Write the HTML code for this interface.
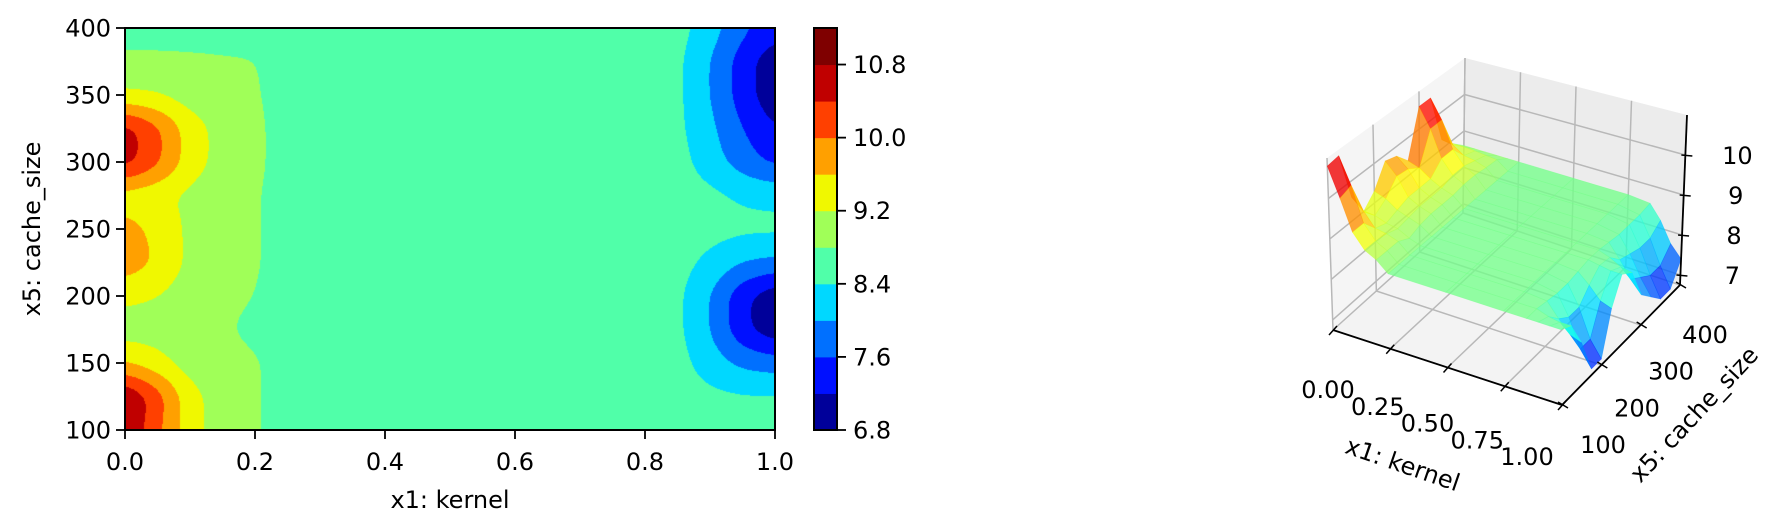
<!DOCTYPE html>
<html><head><meta charset="utf-8">
<style>
html,body{margin:0;padding:0;background:#fff;}
#wrap{position:relative;width:1773px;height:532px;overflow:hidden;font-family:"DejaVu Sans","Liberation Sans",sans-serif;}
#contour{position:absolute;left:125px;top:28px;}
svg{position:absolute;left:0;top:0;}
text{font-family:"DejaVu Sans","Liberation Sans",sans-serif;font-size:24px;fill:#000;}
</style></head>
<body>
<div id="wrap">
<canvas id="contour" width="650" height="402"></canvas>
<svg id="svg" width="1773" height="532"></svg>
</div>
<script>
// ---- data ----
const xGrid = [0,0.05,0.1,0.15,0.2,0.25,0.5,0.75,0.85,0.9,0.95,1.0];
const yGrid = [100,125,150,175,200,225,250,275,300,325,350,375,400];
const zGrid = [
 [10.8,10.1,9.35,9.0,8.85,8.6,8.6,8.6,8.6,8.6,8.6,8.6],
 [10.85,10.2,9.35,9.0,8.85,8.6,8.6,8.6,8.6,8.5,8.45,8.45],
 [9.6,9.35,9.0,8.95,8.85,8.6,8.6,8.6,8.55,8.2,7.9,7.8],
 [9.0,9.0,8.9,8.85,8.7,8.6,8.6,8.6,8.5,8.0,7.3,6.9],
 [9.3,9.2,9.0,8.9,8.8,8.6,8.6,8.6,8.5,8.0,7.3,6.9],
 [9.85,9.55,9.1,8.95,8.85,8.6,8.6,8.6,8.55,8.3,8.0,7.9],
 [9.75,9.5,9.1,8.95,8.85,8.6,8.6,8.6,8.6,8.55,8.5,8.5],
 [9.4,9.3,9.1,8.95,8.85,8.6,8.6,8.6,8.6,8.5,8.35,8.3],
 [10.6,10.1,9.4,9.05,8.9,8.6,8.6,8.6,8.55,8.2,7.8,7.5],
 [10.6,10.1,9.4,9.05,8.9,8.6,8.6,8.6,8.5,8.1,7.6,7.2],
 [9.25,9.2,9.0,8.95,8.85,8.6,8.6,8.6,8.5,8.0,7.4,6.9],
 [8.9,8.9,8.88,8.85,8.82,8.6,8.6,8.6,8.5,8.0,7.4,6.9],
 [8.6,8.6,8.6,8.6,8.6,8.6,8.6,8.6,8.55,8.2,7.7,7.4]
];
const levels = [6.8,7.2,7.6,8.0,8.4,8.8,9.2,9.6,10.0,10.4,10.8,11.2];
const levelColors = ['#00009a','#0010ff','#0070ff','#00d8ff','#50ffa9','#a0ff58','#f0f800','#ffa000','#ff4000','#c00000','#7f0000'];
const xTicks = [0,0.2,0.4,0.6,0.8,1.0];
const xTickLabels = ['0.0','0.2','0.4','0.6','0.8','1.0'];
const yTicks = [100,150,200,250,300,350,400];
const cbTicks = [6.8,7.6,8.4,9.2,10.0,10.8];
const cbTickLabels = ['6.8','7.6','8.4','9.2','10.0','10.8'];
const x3Ticks = [0,0.25,0.5,0.75,1.0];
const x3TickLabels = ['0.00','0.25','0.50','0.75','1.00'];
const y3Ticks = [100,200,300,400];
const z3Ticks = [7,8,9,10];

// ---- helpers ----
const NS='http://www.w3.org/2000/svg';
const svg=document.getElementById('svg');
function el(tag,attrs,parent){const e=document.createElementNS(NS,tag);for(const k in attrs)e.setAttribute(k,attrs[k]);(parent||svg).appendChild(e);return e;}
function seg(arr,v){let i=0;while(i<arr.length-2&&v>arr[i+1])i++;return i;}
function interp(x,y){
  const i=seg(xGrid,x), j=seg(yGrid,y);
  const tx=Math.min(1,Math.max(0,(x-xGrid[i])/(xGrid[i+1]-xGrid[i])));
  const ty=Math.min(1,Math.max(0,(y-yGrid[j])/(yGrid[j+1]-yGrid[j])));
  const a=zGrid[j][i],b=zGrid[j][i+1],c=zGrid[j+1][i],d=zGrid[j+1][i+1];
  return a*(1-tx)*(1-ty)+b*tx*(1-ty)+c*(1-tx)*ty+d*tx*ty;
}
const AX={l:125,r:775,t:28,b:430};
const sx=v=>AX.l+(v-0)/(1-0)*(AX.r-AX.l);
const sy=v=>AX.b-(v-100)/(400-100)*(AX.b-AX.t);
const cbY=v=>AX.b-(v-levels[0])/(levels[levels.length-1]-levels[0])*(AX.b-AX.t);

// ---- contour ----
const CW=650,CH=402;
const cv=document.getElementById('contour');const ctx=cv.getContext('2d');
let field=new Float32Array(CW*CH);
for(let py=0;py<CH;py++)for(let px=0;px<CW;px++){
  field[py*CW+px]=interp((px+0.5)/CW,400-(py+0.5)/CH*300);}
function blur(f,r){
  const o=new Float32Array(CW*CH),o2=new Float32Array(CW*CH);
  for(let y=0;y<CH;y++)for(let x=0;x<CW;x++){let s=0;for(let k=-r;k<=r;k++){const xx=Math.min(CW-1,Math.max(0,x+k));s+=f[y*CW+xx];}o[y*CW+x]=s/(2*r+1);}
  for(let y=0;y<CH;y++)for(let x=0;x<CW;x++){let s=0;for(let k=-r;k<=r;k++){const yy=Math.min(CH-1,Math.max(0,y+k));s+=o[yy*CW+x];}o2[y*CW+x]=s/(2*r+1);}
  return o2;}
field=blur(blur(field,9),9);
const img=ctx.createImageData(CW,CH);
const rgb=levelColors.map(c=>[parseInt(c.substr(1,2),16),parseInt(c.substr(3,2),16),parseInt(c.substr(5,2),16)]);
for(let p=0;p<CW*CH;p++){const v=field[p];
  let k=0;while(k<levels.length-2&&v>=levels[k+1])k++;
  img.data[p*4]=rgb[k][0];img.data[p*4+1]=rgb[k][1];img.data[p*4+2]=rgb[k][2];img.data[p*4+3]=255;}
ctx.putImageData(img,0,0);

const fr=el('rect',{x:AX.l,y:AX.t,width:AX.r-AX.l,height:AX.b-AX.t,fill:'none',stroke:'#000','stroke-width':2});


xTicks.forEach((t,i)=>{
  const ln=el('line',{x1:sx(t),x2:sx(t),y1:AX.b,y2:AX.b+9,stroke:'#000','stroke-width':1.8});
  
  
  const tx=el('text',{x:sx(t),y:AX.b+40,'text-anchor':'middle'});tx.textContent=xTickLabels[i];
  
  
});
yTicks.forEach(t=>{
  const ln=el('line',{x1:AX.l-9,x2:AX.l,y1:sy(t),y2:sy(t),stroke:'#000','stroke-width':1.8});
  
  
  const tx=el('text',{x:AX.l-14,y:sy(t)+8.5,'text-anchor':'end'});tx.textContent=String(t);
  
  
});
const xl=el('text',{x:450,y:508,'text-anchor':'middle'});xl.textContent='x1: kernel';


const yl=el('text',{x:0,y:0,'text-anchor':'middle',transform:'translate(40,229) rotate(-90)'});yl.textContent='x5: cache_size';



for(let k=0;k<levelColors.length;k++){
  const r=el('rect',{x:814,y:cbY(levels[k+1]),width:23,height:cbY(levels[k])-cbY(levels[k+1])+0.5,fill:levelColors[k]});
  
  
}
const cbf=el('rect',{x:814,y:AX.t,width:23,height:AX.b-AX.t,fill:'none',stroke:'#000','stroke-width':2});


cbTicks.forEach((t,i)=>{
  const ln=el('line',{x1:837,x2:846,y1:cbY(t),y2:cbY(t),stroke:'#000','stroke-width':1.8});
  
  
  const tx=el('text',{x:853,y:cbY(t)+8.5});tx.textContent=cbTickLabels[i];
  
  
});

// ---- 3D ----
const ZMIN=6.75,ZMAX=11;
const F00=[1333,330],F10=[1562,405],F01=[1463,213],F11=[1680,285];
const T00=[1327,158],T10=[1560,232],T01=[1465,58],T11=[1687,115];
function bl(a,b,c,d,u,v){return [a[0]*(1-u)*(1-v)+b[0]*u*(1-v)+c[0]*(1-u)*v+d[0]*u*v, a[1]*(1-u)*(1-v)+b[1]*u*(1-v)+c[1]*(1-u)*v+d[1]*u*v];}
function P(x,y,z){const u=x,v=(y-100)/300,w=(z-ZMIN)/(ZMAX-ZMIN);
  const f=bl(F00,F10,F01,F11,u,v),t=bl(T00,T10,T01,T11,u,v);return [f[0]+(t[0]-f[0])*w,f[1]+(t[1]-f[1])*w];}
const pts=a=>a.map(p=>p[0].toFixed(1)+','+p[1].toFixed(1)).join(' ');
const g3=el('g',{});


const pl=el('polygon',{points:pts([F00,F01,T01,T00]),fill:'#f5f5f5'},g3);


const pb=el('polygon',{points:pts([F01,F11,T11,T01]),fill:'#ececec'},g3);


const pf=el('polygon',{points:pts([F00,F10,F11,F01]),fill:'#f3f3f3'},g3);


function gl(a,b){const l=el('line',{x1:a[0],y1:a[1],x2:b[0],y2:b[1],stroke:'#b8b8b8','stroke-width':1.5},g3);
  
  }
y3Ticks.forEach(t=>{gl(P(0,t,ZMIN),P(0,t,ZMAX));gl(P(0,t,ZMIN),P(1,t,ZMIN));});
x3Ticks.forEach(t=>{gl(P(t,400,ZMIN),P(t,400,ZMAX));gl(P(t,100,ZMIN),P(t,400,ZMIN));});
z3Ticks.forEach(t=>{gl(P(0,100,t),P(0,400,t));gl(P(0,400,t),P(1,400,t));});

function jet(t){t=Math.max(0,Math.min(1,t));
  const r=Math.max(0,Math.min(1,1.5-Math.abs(4*t-3))),g=Math.max(0,Math.min(1,1.5-Math.abs(4*t-2))),b=Math.max(0,Math.min(1,1.5-Math.abs(4*t-1)));
  return 'rgb('+Math.round(r*255)+','+Math.round(g*255)+','+Math.round(b*255)+')';}
const CLO=6.3,CHI=11.0;
const quads=[];
for(let j=0;j<yGrid.length-1;j++)for(let i=0;i<xGrid.length-1;i++){
  const zm=(zGrid[j][i]+zGrid[j][i+1]+zGrid[j+1][i+1]+zGrid[j+1][i])/4;
  const xm=(xGrid[i]+xGrid[i+1])/2, ym=(yGrid[j]+yGrid[j+1])/2;
  quads.push({i,j,zm,depth:(ym-100)/300+(1-xm)});
}
quads.sort((a,b)=>b.depth-a.depth);
quads.forEach(q=>{const i=q.i,j=q.j;
  const p=[P(xGrid[i],yGrid[j],zGrid[j][i]),P(xGrid[i+1],yGrid[j],zGrid[j][i+1]),P(xGrid[i+1],yGrid[j+1],zGrid[j+1][i+1]),P(xGrid[i],yGrid[j+1],zGrid[j+1][i])];
  const c=jet((q.zm-CLO)/(CHI-CLO));
  const s=el('polygon',{points:pts(p),fill:c,'fill-opacity':0.78,stroke:c,'stroke-opacity':0.5,'stroke-width':0.6},g3);
  
  
});

function ax(a,b,name){const l=el('line',{x1:a[0],y1:a[1],x2:b[0],y2:b[1],stroke:'#000','stroke-width':1.8},g3);
  
  }
ax(F00,F10,'x-axis-3d');ax(F10,F11,'y-axis-3d');ax(F11,T11,'z-axis-3d');
x3Ticks.forEach((t,i)=>{const p=P(t,100,ZMIN);
  const tk=el('line',{x1:p[0]+4,y1:p[1]-4,x2:p[0]-4,y2:p[1]+5,stroke:'#000','stroke-width':1.5},g3);
  
  
  const ox=-5-30*t, oy=60-8*t;
  const tx=el('text',{x:p[0]+ox,y:p[1]+oy+8,'text-anchor':'middle'},g3);tx.textContent=x3TickLabels[i];
  
  
});
y3Ticks.forEach(t=>{const p=P(1,t,ZMIN);const f=(t-100)/300;
  const tk=el('line',{x1:p[0]-4,y1:p[1]-3,x2:p[0]+6,y2:p[1]+3,stroke:'#000','stroke-width':1.5},g3);
  
  
  const tx=el('text',{x:p[0]+41-16*f,y:p[1]+40+10*f+8,'text-anchor':'middle'},g3);tx.textContent=String(t);
  
  
});
z3Ticks.forEach(t=>{const p=P(1,400,t);
  const tk=el('line',{x1:p[0]-4,y1:p[1],x2:p[0]+7,y2:p[1]+1,stroke:'#000','stroke-width':1.5},g3);
  
  
  const tx=el('text',{x:p[0]+52,y:p[1]+9,'text-anchor':'middle'},g3);tx.textContent=String(t);
  
  
});
const x3l=el('text',{x:0,y:0,'text-anchor':'middle',transform:'translate(1400,472) rotate(19)'},g3);x3l.textContent='x1: kernel';


const y3l=el('text',{x:0,y:0,'text-anchor':'middle',transform:'translate(1700,420) rotate(-47)'},g3);y3l.textContent='x5: cache_size';


</script>
</body></html>
